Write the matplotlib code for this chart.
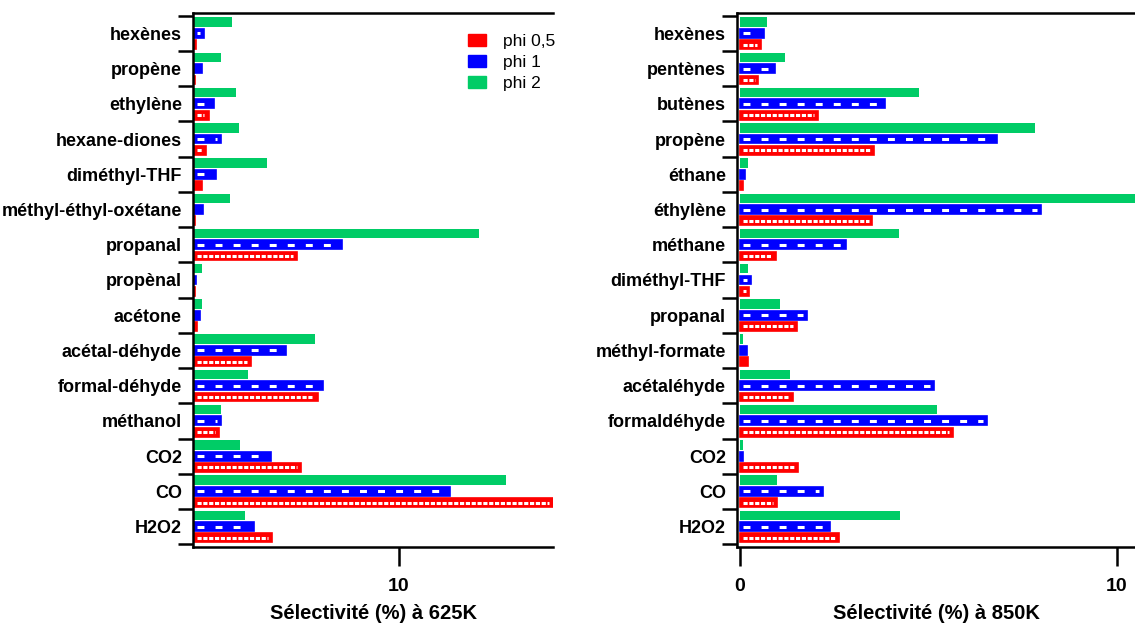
import numpy as np
import matplotlib.pyplot as plt
from matplotlib.patches import Patch

plt.rcParams['font.family'] = ['Liberation Sans', 'DejaVu Sans']
plt.rcParams['lines.scale_dashes'] = False

RED = '#ff0000'
BLUE = '#0000ff'
GREEN = '#00cc66'

# 625 K
cats_625 = ["hexènes", "propène", "ethylène", "hexane-diones", "diméthyl-THF",
            "méthyl-éthyl-oxétane", "propanal", "propènal", "acétone",
            "acétal-déhyde", "formal-déhyde", "méthanol", "CO2", "CO", "H2O2"]
phi05_625 = [0.17, 0.12, 0.76, 0.64, 0.45, 0.12, 5.06, 0.12, 0.2, 2.82, 6.05, 1.28, 5.25, 17.5, 3.85]
phi1_625 = [0.52, 0.45, 1.0, 1.35, 1.14, 0.49, 7.26, 0.17, 0.36, 4.5, 6.33, 1.35, 3.81, 12.5, 2.96]
phi2_625 = [1.9, 1.35, 2.08, 2.22, 3.59, 1.82, 13.9, 0.45, 0.45, 5.93, 2.65, 1.35, 2.27, 15.2, 2.51]

# 850 K
cats_850 = ["hexènes", "pentènes", "butènes", "propène", "éthane", "éthylène", "méthane",
            "diméthyl-THF", "propanal", "méthyl-formate", "acétaléhyde", "formaldéhyde",
            "CO2", "CO", "H2O2"]
phi05_850 = [0.57, 0.5, 2.08, 3.57, 0.09, 3.52, 0.97, 0.26, 1.52, 0.22, 1.42, 5.66, 1.55, 0.98, 2.63]
phi1_850 = [0.65, 0.93, 3.87, 6.84, 0.15, 8.0, 2.83, 0.3, 1.78, 0.19, 5.16, 6.56, 0.09, 2.21, 2.39]
phi2_850 = [0.73, 1.2, 4.75, 7.84, 0.22, 11.0, 4.24, 0.22, 1.07, 0.1, 1.34, 5.23, 0.1, 0.99, 4.26]


def inner_dashes(ax, ypos, widths, inset, lw, dashes):
    # white dashed stripe inside the red / blue bars
    for yy, w in zip(ypos, widths):
        if w > 2.5 * inset:
            ax.hlines(yy, inset, w - inset, colors='white', linewidth=lw,
                      linestyles=(0, dashes), capstyle='butt')


def panel(ax, cats, p05, p1, p2, xlim, xticks, xlabel, inset):
    y = np.arange(len(cats))
    h = 0.25
    ax.barh(y - 0.32, p2, height=h + 0.02, color=GREEN, lw=0)
    ax.barh(y, p1, height=h, color=BLUE, ec=BLUE, lw=1.2)
    ax.barh(y + 0.32, p05, height=h, color=RED, ec=RED, lw=1.2)
    inner_dashes(ax, y, p1, inset, 2.2, (5, 8))
    inner_dashes(ax, y + 0.32, p05, inset, 2.2, (3, 1.2))

    ax.set_xlim(*xlim)
    ax.set_ylim(len(cats) - 0.42, -0.58)
    ax.set_yticks(y)
    ax.set_yticklabels(cats, fontsize=13, fontweight='bold')
    ax.set_yticks(np.arange(len(cats) + 1) - 0.5, minor=True)
    ax.tick_params(axis='y', which='major', length=0, pad=8)
    ax.tick_params(axis='y', which='minor', length=11, width=1.8)
    ax.set_xticks(xticks)
    ax.set_xticklabels([str(t) for t in xticks], fontsize=14, fontweight='bold')
    ax.tick_params(axis='x', length=14, width=1.8, pad=8)
    ax.set_xlabel(xlabel, fontsize=14.5, fontweight='bold', labelpad=7)
    ax.spines['right'].set_visible(False)
    for s in ('left', 'top', 'bottom'):
        ax.spines[s].set_linewidth(1.8)


fig = plt.figure(figsize=(11.35, 6.24), dpi=100)
ax1 = fig.add_axes([0.170, 0.1234, 0.3176, 0.8558])
ax2 = fig.add_axes([0.6493, 0.1234, 0.3507, 0.8558])

panel(ax1, cats_625, phi05_625, phi1_625, phi2_625, (0, 17.5), [10],
      "Sélectivité (%) à 625K", 0.2)
panel(ax2, cats_850, phi05_850, phi1_850, phi2_850, (-0.07, 10.49), [0, 10],
      "Sélectivité (%) à 850K", 0.1)

handles = [Patch(fc=RED, ec=RED), Patch(fc=BLUE, ec=BLUE), Patch(fc=GREEN, ec=GREEN)]
fig.legend(handles, ["phi 0,5", "phi 1", "phi 2"], loc='upper left',
           bbox_to_anchor=(0.405, 0.960), frameon=False, fontsize=12.5,
           handlelength=1.0, handleheight=0.7, handletextpad=1.0,
           labelspacing=0.35, borderpad=0)

fig.savefig("out.png", dpi=100)
